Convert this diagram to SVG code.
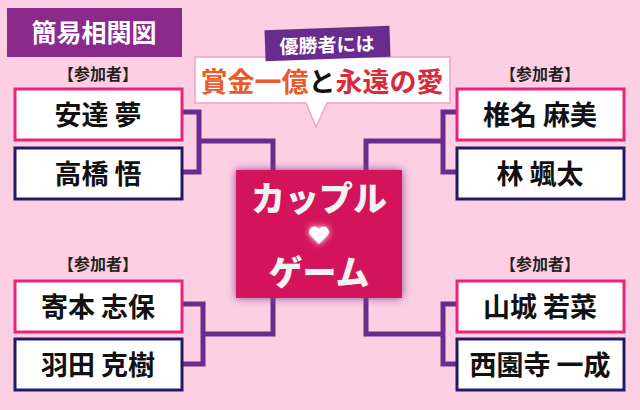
<svg xmlns="http://www.w3.org/2000/svg" width="640" height="410" viewBox="0 0 640 410">
<defs>
<style>
.nm{font-family:"Noto Sans CJK JP",serif;font-weight:bold;font-size:27px;fill:#111;text-anchor:middle}
.lb{font-family:"Noto Sans CJK JP",serif;font-weight:bold;font-size:16px;fill:#222;text-anchor:middle}
.bp{fill:#fff;stroke:#e8247a;stroke-width:3}
.bn{fill:#fff;stroke:#231a66;stroke-width:3}
.ln{fill:none;stroke:#6a2b8e;stroke-width:5}
</style>
<filter id="gl" x="-20%" y="-20%" width="140%" height="140%"><feGaussianBlur stdDeviation="4"/></filter>
<filter id="hg" x="-100%" y="-100%" width="300%" height="300%"><feGaussianBlur stdDeviation="3"/></filter>
</defs>
<rect width="640" height="410" fill="#fcd0e2"/>
<g id="title"><rect x="7" y="8" width="175" height="49" fill="#8b2a8c"/>
<text x="94" y="42" font-family="Noto Sans CJK JP,serif" font-weight="bold" font-size="25" fill="#fff" text-anchor="middle">簡易相関図</text></g>
<g id="connectors">
<path class="ln" d="M182 112H199V172H182M199 141H273V172"/>
<path class="ln" d="M182 304H203V364H182M203 334H273V298"/>
<path class="ln" d="M456 112H443V172H456M443 141H366V172"/>
<path class="ln" d="M456 304H443V364H456M443 334H366V298"/>
</g>
<text class="lb" x="98" y="80">【参加者】</text>
<text class="lb" x="540" y="80">【参加者】</text>
<text class="lb" x="98" y="270">【参加者】</text>
<text class="lb" x="540" y="270">【参加者】</text>
<g id="n1"><rect class="bp" x="15" y="89" width="167" height="51"/><text class="nm" x="98" y="125">安達 夢</text></g>
<g id="n2"><rect class="bn" x="15" y="148" width="167" height="51"/><text class="nm" x="98" y="184">高橋 悟</text></g>
<g id="n3"><rect class="bp" x="15" y="281" width="167" height="51"/><text class="nm" x="98" y="317">寄本 志保</text></g>
<g id="n4"><rect class="bn" x="15" y="339" width="167" height="51"/><text class="nm" x="98" y="375">羽田 克樹</text></g>
<g id="n5"><rect class="bp" x="457" y="89" width="167" height="51"/><text class="nm" x="540" y="125">椎名 麻美</text></g>
<g id="n6"><rect class="bn" x="457" y="148" width="167" height="51"/><text class="nm" x="540" y="184">林 颯太</text></g>
<g id="n7"><rect class="bp" x="457" y="281" width="167" height="51"/><text class="nm" x="540" y="317">山城 若菜</text></g>
<g id="n8"><rect class="bn" x="457" y="339" width="167" height="51"/><text class="nm" x="540" y="375">西園寺 一成</text></g>
<g id="center">
<rect x="236" y="170" width="166" height="128" fill="#8a3fa0" filter="url(#gl)"/>
<rect x="236" y="170" width="166" height="128" fill="#d3145a"/>
<g font-family="Noto Sans CJK JP,sans-serif" font-weight="900" font-size="34" fill="#f2f2f2" text-anchor="middle">
<text x="319" y="211">カップル</text><text x="319" y="285">ゲーム</text></g>
<path d="M319 244l-9-9a5 5 0 0 1 9-6a5 5 0 0 1 9 6z" fill="#fff" filter="url(#hg)"/>
<path d="M319 244l-9-9a5 5 0 0 1 9-6a5 5 0 0 1 9 6z" fill="#fff"/>
</g>
<g id="callout">
<path d="M195 57H450V103H327L316 127L306 103H195Z" fill="#fff" stroke="#f4a0c4" stroke-width="1.5"/>
<g transform="rotate(-2 327 43)"><rect x="265" y="28" width="125" height="31" fill="#6a2b8e"/>
<text x="327" y="52" font-family="Noto Sans CJK JP,serif" font-weight="bold" font-size="19" fill="#fff" text-anchor="middle">優勝者には</text></g>
<text x="322" y="92" font-family="Noto Sans CJK JP,serif" font-weight="bold" font-size="27" text-anchor="middle"><tspan fill="#ea5a2a">賞金一億</tspan><tspan fill="#111">と</tspan><tspan fill="#d92a3a">永遠の愛</tspan></text>
</g>
</svg>
